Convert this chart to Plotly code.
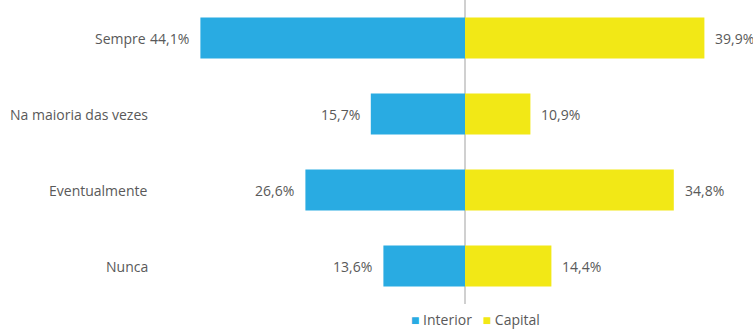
import plotly.graph_objects as go

categories = ["Sempre", "Na maioria das vezes", "Eventualmente", "Nunca"]
interior = [44.1, 15.7, 26.6, 13.6]
capital = [39.9, 10.9, 34.8, 14.4]
series_names = ["Interior", "Capital"]

BLUE = "#29ABE2"
YELLOW = "#F2E816"
TEXT = "#595959"
FONT = "Open Sans"

fig = go.Figure()
fig.add_trace(go.Bar(
    y=categories, x=[-v for v in interior], orientation="h",
    name=series_names[0], marker=dict(color=BLUE, line=dict(width=0)),
    hoverinfo="skip",
))
fig.add_trace(go.Bar(
    y=categories, x=capital, orientation="h",
    name=series_names[1], marker=dict(color=YELLOW, line=dict(width=0)),
    hoverinfo="skip",
))

def pct(v):
    return f"{v:.1f}%".replace(".", ",")

label_font = dict(family=FONT, size=14, color=TEXT)
annotations = []
for cat, vi, vc in zip(categories, interior, capital):
    annotations.append(dict(
        x=-vi, y=cat, xref="x", yref="y", text=pct(vi), showarrow=False,
        xanchor="right", xshift=-9, font=label_font,
    ))
    annotations.append(dict(
        x=vc, y=cat, xref="x", yref="y", text=pct(vc), showarrow=False,
        xanchor="left", xshift=9, font=label_font,
    ))
    # category label; the top one sits right against its value label
    annotations.append(dict(
        x=0, y=cat, xref="paper", yref="y", text=cat, showarrow=False,
        xanchor="right", xshift=148 if cat == "Sempre" else 150,
        font=label_font,
    ))

# compact legend below the plot
legend_text = (
    f"<span style='color:{BLUE}'>■</span> {series_names[0]}&nbsp;&nbsp;&nbsp;"
    f"<span style='color:{YELLOW}'>■</span> {series_names[1]}"
)
annotations.append(dict(
    x=475 / 753, y=0, xref="paper", yref="paper", yanchor="middle", yshift=-15,
    text=legend_text, showarrow=False, xanchor="center",
    font=dict(family=FONT, size=14, color=TEXT), borderpad=0,
))

fig.update_layout(
    width=753, height=329,
    margin=dict(l=0, r=0, t=0, b=25, autoexpand=False),
    paper_bgcolor="white", plot_bgcolor="white",
    barmode="relative", bargap=0.46,
    showlegend=False,
    xaxis=dict(range=[-77.5, 48], showgrid=False, showticklabels=False,
               zeroline=True, zerolinecolor="#D0D0D0", zerolinewidth=1.5,
               fixedrange=True),
    yaxis=dict(categoryorder="array", categoryarray=categories, autorange="reversed",
               showgrid=False, showticklabels=False, zeroline=False, fixedrange=True),
    annotations=annotations,
)

fig.write_html("out.html")
